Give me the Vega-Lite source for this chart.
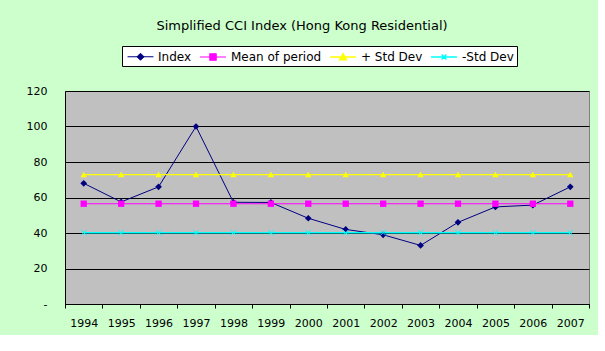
{
  "$schema": "https://vega.github.io/schema/vega-lite/v6.json",
  "autosize": {"type": "none"},
  "width": 524,
  "height": 213,
  "padding": {"left": 65, "top": 91, "right": 9, "bottom": 31},
  "background": "#CCFFCC",
  "title": {
    "text": "Simplified CCI Index (Hong Kong Residential)",
    "fontSize": 13,
    "fontWeight": "normal",
    "font": "DejaVu Sans",
    "color": "black",
    "anchor": "middle",
    "frame": "group",
    "dx": -25,
    "offset": 13
  },
  "data": {
    "values": [
      {"year": "1994", "series": "Index", "value": 68},
      {"year": "1995", "series": "Index", "value": 57.5},
      {"year": "1996", "series": "Index", "value": 66},
      {"year": "1997", "series": "Index", "value": 100},
      {"year": "1998", "series": "Index", "value": 57.3},
      {"year": "1999", "series": "Index", "value": 57.2},
      {"year": "2000", "series": "Index", "value": 48.3},
      {"year": "2001", "series": "Index", "value": 42},
      {"year": "2002", "series": "Index", "value": 39},
      {"year": "2003", "series": "Index", "value": 33},
      {"year": "2004", "series": "Index", "value": 46},
      {"year": "2005", "series": "Index", "value": 54.7},
      {"year": "2006", "series": "Index", "value": 55.7},
      {"year": "2007", "series": "Index", "value": 66},
      {"year": "1994", "series": "Mean of period", "value": 56.5},
      {"year": "1995", "series": "Mean of period", "value": 56.5},
      {"year": "1996", "series": "Mean of period", "value": 56.5},
      {"year": "1997", "series": "Mean of period", "value": 56.5},
      {"year": "1998", "series": "Mean of period", "value": 56.5},
      {"year": "1999", "series": "Mean of period", "value": 56.5},
      {"year": "2000", "series": "Mean of period", "value": 56.5},
      {"year": "2001", "series": "Mean of period", "value": 56.5},
      {"year": "2002", "series": "Mean of period", "value": 56.5},
      {"year": "2003", "series": "Mean of period", "value": 56.5},
      {"year": "2004", "series": "Mean of period", "value": 56.5},
      {"year": "2005", "series": "Mean of period", "value": 56.5},
      {"year": "2006", "series": "Mean of period", "value": 56.5},
      {"year": "2007", "series": "Mean of period", "value": 56.5},
      {"year": "1994", "series": "+ Std Dev", "value": 72.9},
      {"year": "1995", "series": "+ Std Dev", "value": 72.9},
      {"year": "1996", "series": "+ Std Dev", "value": 72.9},
      {"year": "1997", "series": "+ Std Dev", "value": 72.9},
      {"year": "1998", "series": "+ Std Dev", "value": 72.9},
      {"year": "1999", "series": "+ Std Dev", "value": 72.9},
      {"year": "2000", "series": "+ Std Dev", "value": 72.9},
      {"year": "2001", "series": "+ Std Dev", "value": 72.9},
      {"year": "2002", "series": "+ Std Dev", "value": 72.9},
      {"year": "2003", "series": "+ Std Dev", "value": 72.9},
      {"year": "2004", "series": "+ Std Dev", "value": 72.9},
      {"year": "2005", "series": "+ Std Dev", "value": 72.9},
      {"year": "2006", "series": "+ Std Dev", "value": 72.9},
      {"year": "2007", "series": "+ Std Dev", "value": 72.9},
      {"year": "1994", "series": "-Std Dev", "value": 40.2},
      {"year": "1995", "series": "-Std Dev", "value": 40.2},
      {"year": "1996", "series": "-Std Dev", "value": 40.2},
      {"year": "1997", "series": "-Std Dev", "value": 40.2},
      {"year": "1998", "series": "-Std Dev", "value": 40.2},
      {"year": "1999", "series": "-Std Dev", "value": 40.2},
      {"year": "2000", "series": "-Std Dev", "value": 40.2},
      {"year": "2001", "series": "-Std Dev", "value": 40.2},
      {"year": "2002", "series": "-Std Dev", "value": 40.2},
      {"year": "2003", "series": "-Std Dev", "value": 40.2},
      {"year": "2004", "series": "-Std Dev", "value": 40.2},
      {"year": "2005", "series": "-Std Dev", "value": 40.2},
      {"year": "2006", "series": "-Std Dev", "value": 40.2},
      {"year": "2007", "series": "-Std Dev", "value": 40.2}
    ]
  },
  "encoding": {
    "x": {
      "field": "year",
      "type": "ordinal",
      "scale": {"paddingInner": 0, "paddingOuter": 0},
      "axis": {
        "title": null,
        "labelAngle": 0,
        "tickBand": "extent",
        "tickSize": 4,
        "tickColor": "black",
        "domainColor": "black",
        "labelFontSize": 11,
        "labelColor": "black",
        "labelPadding": 9,
        "grid": false
      }
    },
    "y": {
      "field": "value",
      "type": "quantitative",
      "scale": {"domain": [0, 120], "nice": false},
      "axis": {
        "title": null,
        "values": [0, 20, 40, 60, 80, 100, 120],
        "labelExpr": "datum.value === 0 ? '-' : datum.label",
        "grid": true,
        "gridColor": "black",
        "gridOpacity": 1,
        "tickSize": 0,
        "domainColor": "black",
        "labelFontSize": 11,
        "labelColor": "black",
        "labelPadding": 18
      }
    }
  },
  "layer": [
    {
      "mark": {"type": "line"},
      "encoding": {
        "color": {
          "field": "series",
          "type": "nominal",
          "sort": ["Index", "Mean of period", "+ Std Dev", "-Std Dev"],
          "scale": {
            "domain": ["Index", "Mean of period", "+ Std Dev", "-Std Dev"],
            "range": ["#000080", "#FF00FF", "#FFFF00", "#00FFFF"]
          },
          "legend": {
            "orient": "none",
            "legendX": 57,
            "legendY": -45,
            "direction": "horizontal",
            "title": null,
            "fillColor": "white",
            "strokeColor": "black",
            "padding": 3,
            "symbolSize": 196,
            "symbolStrokeWidth": 1,
            "labelFontSize": 12,
            "labelColor": "black",
            "labelOffset": 10,
            "columnPadding": 5,
            "symbolOffset": 8,
            "encode": {
              "symbols": {
                "update": {
                  "shape": {"signal": "datum.value === 'Index' ? 'M-1.85,0H1.85M0,-0.5L0.5,0L0,0.5L-0.5,0Z' : datum.value === 'Mean of period' ? 'M-1.85,0H1.85M-0.45,-0.45H0.45V0.45H-0.45Z' : datum.value === '+ Std Dev' ? 'M-1.85,0H1.85M0,-0.5L0.5,0.4H-0.5Z' : 'M-1.85,0H1.85M-0.35,-0.35L0.35,0.35M-0.35,0.35L0.35,-0.35'"},
                  "fill": {"signal": "scale('color', datum.value)"},
                  "opacity": {"value": 1}
                }
              }
            }
          }
        },
        "strokeWidth": {
          "field": "series",
          "type": "nominal",
          "scale": {
            "domain": ["Index", "Mean of period", "+ Std Dev", "-Std Dev"],
            "range": [1, 1.5, 2, 2]
          },
          "legend": null
        }
      }
    },
    {
      "transform": [{"filter": "datum.series === 'Index'"}],
      "mark": {"type": "point", "shape": "diamond", "filled": true, "size": 45, "opacity": 1, "color": "#000080"}
    },
    {
      "transform": [{"filter": "datum.series === 'Mean of period'"}],
      "mark": {"type": "point", "shape": "square", "filled": true, "size": 40, "opacity": 1, "color": "#FF00FF"}
    },
    {
      "transform": [{"filter": "datum.series === '+ Std Dev'"}],
      "mark": {"type": "point", "shape": "triangle-up", "filled": true, "size": 40, "opacity": 1, "color": "#FFFF00"}
    },
    {
      "transform": [{"filter": "datum.series === '-Std Dev'"}],
      "mark": {"type": "point", "shape": "M-1,-1L1,1M-1,1L1,-1", "filled": false, "size": 30, "opacity": 1, "color": "#00FFFF", "strokeWidth": 1}
    }
  ],
  "config": {
    "font": "DejaVu Sans",
    "view": {"fill": "#C0C0C0", "stroke": "#808080", "strokeWidth": 1}
  }
}
